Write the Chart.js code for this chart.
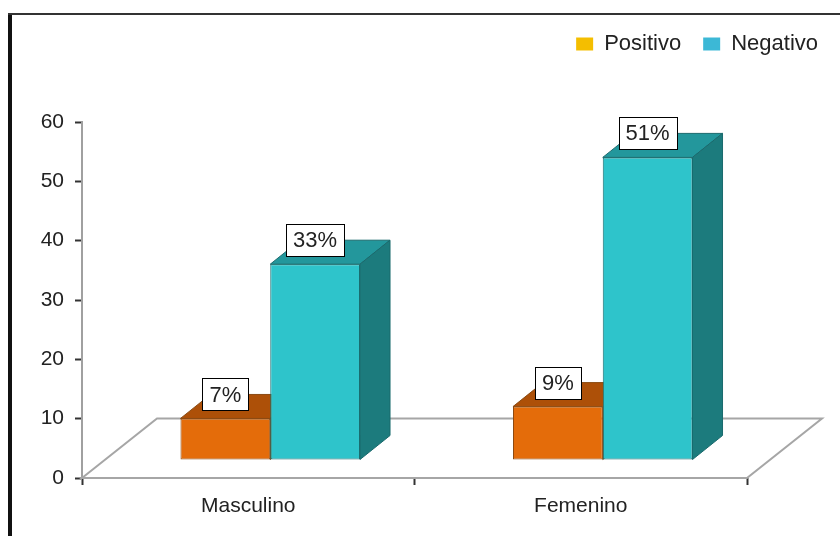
<!DOCTYPE html>
<html>
<head>
<meta charset="utf-8">
<script src="https://cdn.jsdelivr.net/npm/chart.js@4/dist/chart.umd.min.js"></script>
<style>
  html, body { margin: 0; padding: 0; background: #fff; }
  #wrap { width: 840px; height: 536px; }
</style>
</head>
<body>
<div id="wrap"><canvas id="myBarChart" width="840" height="536"></canvas></div>
<script>
var categories = ['Masculino', 'Femenino'];
var seriesNames = ['Positivo', 'Negativo'];
var positivo = [7, 9];
var negativo = [33, 51];
var yMax = 60;
var yStep = 10;

var fontFamily = '"Liberation Sans", Arial, sans-serif';

// front, top and side colours of each series
var faces = [
    { front: '#e46c0a', top: '#ad5008', side: '#8c4106', edge: '#8a4a12' },
    { front: '#2ec4cb', top: '#23979c', side: '#1c7b7d', edge: '#1a6a6d' }
];
var legendColors = ['#f4be00', '#3cb8d6'];

// offset of the bars from the axis plane and depth of each bar
var OX = 22, OY = -18;
var DX = 30, DY = -24;
// depth of the floor
var FX = 75, FY = -59.5;

var bars3d = {
    id: 'bars3d',
    beforeInit: function(chart) {
        // leave room under the legend
        var fit = chart.legend.fit;
        chart.legend.fit = function() {
            fit.bind(chart.legend)();
            this.height += 57;
        };
    },
    beforeDraw: function(chart) {
        var ctx = chart.ctx;
        ctx.save();
        ctx.fillStyle = '#fff';
        ctx.fillRect(0, 0, chart.width, chart.height);
        ctx.fillStyle = '#111';
        ctx.fillRect(8, 14, 4, chart.height - 14);
        ctx.fillStyle = '#333';
        ctx.fillRect(8, 13, chart.width - 8, 2);
        ctx.restore();
    },
    beforeDatasetsDraw: function(chart) {
        var ctx = chart.ctx;
        var a = chart.chartArea;
        ctx.save();
        // floor
        ctx.beginPath();
        ctx.moveTo(a.left, a.bottom);
        ctx.lineTo(a.left + FX, a.bottom + FY);
        ctx.lineTo(a.right + FX, a.bottom + FY);
        ctx.lineTo(a.right, a.bottom);
        ctx.closePath();
        ctx.fillStyle = '#fff';
        ctx.fill();
        ctx.strokeStyle = '#a6a6a6';
        ctx.lineWidth = 2;
        ctx.stroke();

        // top and side faces, left to right
        var list = [];
        chart.data.datasets.forEach(function(ds, i) {
            chart.getDatasetMeta(i).data.forEach(function(bar) {
                list.push({ bar: bar.getProps(['x', 'y', 'base', 'width'], true), c: faces[i] });
            });
        });
        list.sort(function(p, q) { return p.bar.x - q.bar.x; });
        ctx.lineWidth = 1;
        list.forEach(function(item) {
            var b = item.bar;
            var x0 = b.x - b.width / 2 + OX, x1 = b.x + b.width / 2 + OX;
            var yt = b.y + OY, yb = b.base + OY;
            ctx.strokeStyle = item.c.edge;
            ctx.beginPath();
            ctx.moveTo(x0, yt);
            ctx.lineTo(x0 + DX, yt + DY);
            ctx.lineTo(x1 + DX, yt + DY);
            ctx.lineTo(x1, yt);
            ctx.closePath();
            ctx.fillStyle = item.c.top;
            ctx.fill();
            ctx.stroke();
            ctx.beginPath();
            ctx.moveTo(x1, yt);
            ctx.lineTo(x1 + DX, yt + DY);
            ctx.lineTo(x1 + DX, yb + DY);
            ctx.lineTo(x1, yb);
            ctx.closePath();
            ctx.fillStyle = item.c.side;
            ctx.fill();
            ctx.stroke();
        });
        ctx.restore();
        // front faces are drawn by Chart.js, shifted back onto the floor
        ctx.save();
        ctx.translate(OX, OY);
    },
    afterDatasetsDraw: function(chart) {
        var ctx = chart.ctx;
        ctx.restore();
        ctx.save();
        ctx.font = '22px ' + fontFamily;
        ctx.textAlign = 'center';
        ctx.textBaseline = 'middle';
        chart.data.datasets.forEach(function(ds, i) {
            chart.getDatasetMeta(i).data.forEach(function(bar, j) {
                var p = bar.getProps(['x', 'y'], true);
                var text = ds.data[j] + '%';
                var w = ctx.measureText(text).width + 14;
                var h = 32;
                var cx = p.x + OX;
                var cy = p.y + OY + DY;
                var bx = Math.round(cx - w / 2) + 0.5, by = Math.round(cy - h / 2) + 0.5;
                ctx.fillStyle = '#fff';
                ctx.fillRect(bx, by, Math.round(w), h);
                ctx.strokeStyle = '#000';
                ctx.lineWidth = 1;
                ctx.strokeRect(bx, by, Math.round(w), h);
                ctx.fillStyle = '#222';
                ctx.fillText(text, cx, cy + 1);
            });
        });
        ctx.restore();
    }
};

var data = {
    labels: categories,
    datasets: [
        {
            label: seriesNames[0],
            data: positivo,
            backgroundColor: faces[0].front,
            borderColor: faces[0].edge,
            borderWidth: 1,
            borderSkipped: false
        },
        {
            label: seriesNames[1],
            data: negativo,
            backgroundColor: faces[1].front,
            borderColor: faces[1].edge,
            borderWidth: 1,
            borderSkipped: false
        }
    ]
};

var options = {
    responsive: false,
    animation: false,
    clip: false,
    layout: {
        padding: { top: 11, left: 0, right: 0, bottom: 0 }
    },
    datasets: {
        bar: {
            barPercentage: 1,
            categoryPercentage: 0.54
        }
    },
    scales: {
        x: {
            grid: {
                display: true,
                drawOnChartArea: false,
                tickLength: 7,
                tickColor: '#333',
                tickWidth: 2
            },
            border: { display: false },
            ticks: {
                color: '#222',
                padding: 9,
                font: { family: fontFamily, size: 21 }
            },
            afterFit: function(scale) { scale.height = 58; }
        },
        y: {
            min: 0,
            max: yMax,
            ticks: {
                stepSize: yStep,
                color: '#222',
                padding: 11,
                font: { family: fontFamily, size: 21 }
            },
            grid: {
                drawOnChartArea: false,
                tickLength: 7,
                tickColor: '#333',
                tickWidth: 2
            },
            border: { display: true, color: '#a0a0a0', width: 2 },
            afterFit: function(scale) { scale.width = 82; }
        },
        yRight: {
            position: 'right',
            display: true,
            grid: { display: false },
            ticks: { display: false },
            border: { display: false },
            afterFit: function(scale) { scale.width = 93; }
        }
    },
    plugins: {
        legend: {
            display: true,
            position: 'top',
            align: 'end',
            labels: {
                boxWidth: 17,
                boxHeight: 13,
                padding: 22,
                color: '#222',
                font: { family: fontFamily, size: 22 },
                generateLabels: function(chart) {
                    return chart.data.datasets.map(function(ds, i) {
                        return {
                            text: ds.label,
                            fillStyle: legendColors[i],
                            strokeStyle: legendColors[i],
                            lineWidth: 0,
                            hidden: false,
                            datasetIndex: i,
                            fontColor: '#222'
                        };
                    });
                }
            }
        },
        tooltip: { enabled: false }
    }
};

var ctx = document.getElementById('myBarChart').getContext('2d');
var myBarChart = new Chart(ctx, {
    type: 'bar',
    data: data,
    options: options,
    plugins: [bars3d]
});
</script>
</body>
</html>
